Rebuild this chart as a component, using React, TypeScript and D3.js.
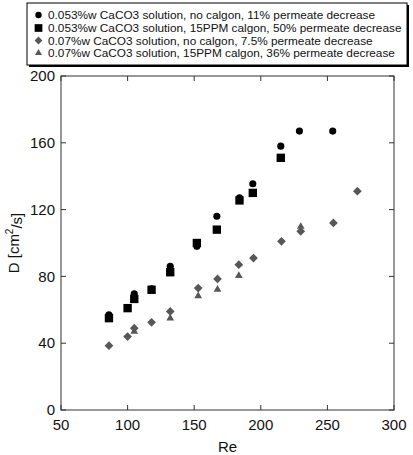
import { useMemo } from 'react';
import * as d3 from 'd3';

const WIDTH = 413;
const HEIGHT = 455;
const PLOT = { left: 61, right: 394, top: 76, bottom: 410 };
const FONT = '"Liberation Sans", Arial, Helvetica, sans-serif';

// Re / D pairs for each run
const circleRe = [86, 105, 118, 132, 152, 167, 184, 194, 215, 229, 254];
const circleD = [57, 69.5, 72.5, 86, 98, 116, 127, 135.5, 158, 167, 167];

const squareRe = [86, 100, 105, 118, 132, 152, 167, 184, 194, 215];
const squareD = [55, 61, 66.5, 72, 82.5, 100, 108, 125.5, 130, 151];

const diamondRe = [86, 100, 105, 118, 132, 153, 167.5, 183.5, 194.5, 215.5, 230, 254.5, 272.5];
const diamondD = [38.5, 44, 49, 52.5, 59, 73, 78.5, 87, 91, 101, 107, 112, 131];

const triangleRe = [105, 132, 153, 167.5, 183.5, 230];
const triangleD = [47, 55, 68.3, 72.2, 80.4, 109.8];

const xTicks = [50, 100, 150, 200, 250, 300];
const yTicks = [0, 40, 80, 120, 160, 200];

const legendLabels = [
  '0.053%w CaCO3 solution, no calgon, 11% permeate decrease',
  '0.053%w CaCO3 solution, 15PPM calgon, 50% permeate decrease',
  '0.07%w CaCO3 solution, no calgon, 7.5% permeate decrease',
  '0.07%w CaCO3 solution, 15PPM calgon, 36% permeate decrease',
];

type Kind = 'circle' | 'square' | 'diamond' | 'triangle';

const markerPath = (kind: Kind, scale = 1) => {
  if (kind === 'circle') return d3.symbol(d3.symbolCircle, 40 * scale)()!;
  if (kind === 'square') return d3.symbol(d3.symbolSquare, 70 * scale)()!;
  if (kind === 'diamond') return d3.symbol(d3.symbolSquare, 38 * scale)()!;
  return d3.symbol(d3.symbolTriangle, 26 * scale)()!;
};

const markerFill = (kind: Kind) => (kind === 'circle' || kind === 'square' ? '#000' : '#575757');

const Marker = ({ kind, x, y, scale = 1 }: { kind: Kind; x: number; y: number; scale?: number }) => (
  <path
    d={markerPath(kind, scale)}
    fill={markerFill(kind)}
    transform={`translate(${x},${y})${kind === 'diamond' ? ' rotate(45)' : ''}`}
  />
);

export default function App() {
  const x = useMemo(() => d3.scaleLinear().domain([50, 300]).range([PLOT.left, PLOT.right]), []);
  const y = useMemo(() => d3.scaleLinear().domain([0, 200]).range([PLOT.bottom, PLOT.top]), []);

  const series: { kind: Kind; re: number[]; d: number[] }[] = [
    { kind: 'diamond', re: diamondRe, d: diamondD },
    { kind: 'triangle', re: triangleRe, d: triangleD },
    { kind: 'circle', re: circleRe, d: circleD },
    { kind: 'square', re: squareRe, d: squareD },
  ];
  const legendKinds: Kind[] = ['circle', 'square', 'diamond', 'triangle'];
  const legendY = [15, 28, 40.5, 53];

  const tickLen = 5;
  const axisColor = '#333';

  return (
    <svg
      width={WIDTH}
      height={HEIGHT}
      style={{ position: 'absolute', left: 0, top: 0, background: '#fff', fontFamily: FONT }}
    >
      {/* legend box with drop shadow */}
      <rect x={29} y={5} width={380} height={62} fill="#000" />
      <rect x={27} y={3} width={380} height={62} fill="#fff" stroke="#000" strokeWidth={1} />
      {legendLabels.map((label, i) => (
        <g key={label}>
          <Marker kind={legendKinds[i]} x={38.5} y={legendY[i]} scale={legendKinds[i] === 'square' ? 0.85 : 0.8} />
          <text x={48} y={legendY[i]} dy="0.35em" fontSize={11.8} fill="#111">
            {label}
          </text>
        </g>
      ))}

      {/* plot frame */}
      <rect
        x={PLOT.left}
        y={PLOT.top}
        width={PLOT.right - PLOT.left}
        height={PLOT.bottom - PLOT.top}
        fill="none"
        stroke={axisColor}
        strokeWidth={1}
      />

      {/* x ticks, inward on bottom and top */}
      {xTicks.map((t) => (
        <g key={`x${t}`}>
          <line x1={x(t)} x2={x(t)} y1={PLOT.bottom} y2={PLOT.bottom - tickLen} stroke={axisColor} />
          <line x1={x(t)} x2={x(t)} y1={PLOT.top} y2={PLOT.top + tickLen} stroke={axisColor} />
          <text x={x(t)} y={PLOT.bottom + 15} dy="0.35em" textAnchor="middle" fontSize={15} fill="#111">
            {t}
          </text>
        </g>
      ))}

      {/* y ticks, inward on left and right */}
      {yTicks.map((t) => (
        <g key={`y${t}`}>
          <line x1={PLOT.left} x2={PLOT.left + tickLen} y1={y(t)} y2={y(t)} stroke={axisColor} />
          <line x1={PLOT.right} x2={PLOT.right - tickLen} y1={y(t)} y2={y(t)} stroke={axisColor} />
          <text x={PLOT.left - 6} y={y(t)} dy="0.35em" textAnchor="end" fontSize={15} fill="#111">
            {t}
          </text>
        </g>
      ))}

      <text x={(PLOT.left + PLOT.right) / 2} y={447} dy="0.35em" textAnchor="middle" fontSize={15} fill="#111">
        Re
      </text>
      <text
        transform={`translate(14,${(PLOT.top + PLOT.bottom) / 2}) rotate(-90)`}
        textAnchor="middle"
        fontSize={15}
        fill="#111"
        dy="0.35em"
      >
        D [cm
        <tspan fontSize={10} dy="-0.6em">2</tspan>
        <tspan dy="0.6em">/s]</tspan>
      </text>

      {/* data points */}
      {series.map((s) =>
        s.re.map((re, i) => <Marker key={`${s.kind}${i}`} kind={s.kind} x={x(re)} y={y(s.d[i])} />)
      )}
    </svg>
  );
}
